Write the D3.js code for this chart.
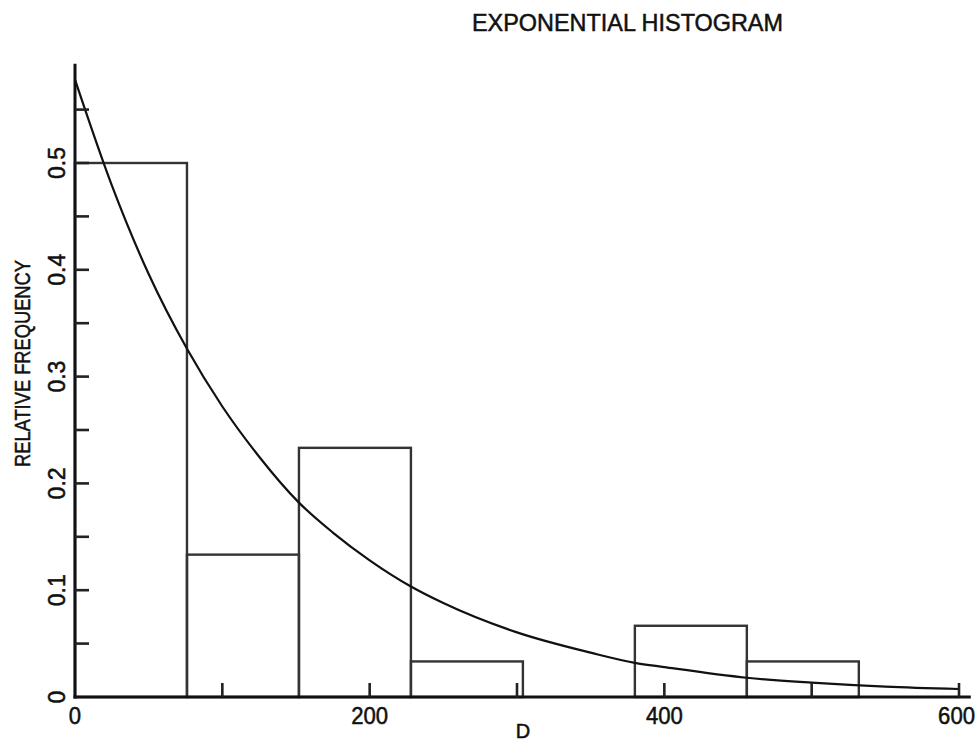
<!DOCTYPE html>
<html>
<head>
<meta charset="utf-8">
<script src="https://cdn.jsdelivr.net/npm/d3@7"></script>
<style>
  html, body { margin: 0; padding: 0; background: #fff; }
  svg { display: block; }
  text { font-family: "Liberation Sans", Arial, sans-serif; fill: #111; stroke: #111; stroke-width: 0.5px; }
</style>
</head>
<body>
<svg id="chart" width="977" height="744"></svg>
<script>
// ---- data ----
const binStarts = [0, 76, 152, 228, 304, 380, 456];
const binWidth = 76;
const relFreq = [0.5, 0.1333, 0.2333, 0.0333, 0, 0.0667, 0.0333];

const curveX = [0, 25, 50, 76, 100, 125, 152, 175, 200, 228, 250, 300, 350, 380, 400, 456, 500, 550, 600];
const curveY = [0.578, 0.479, 0.396, 0.326, 0.272, 0.225, 0.182, 0.154, 0.128, 0.1035, 0.088, 0.0605, 0.0415, 0.032, 0.028, 0.018, 0.0135, 0.0098, 0.0075];

const xTicks = [0, 200, 400, 600];
const xMinorTicks = [100, 300, 500];
const yTicks = [0, 0.1, 0.2, 0.3, 0.4, 0.5];
const yTickLabels = ["0", "0.1", "0.2", "0.3", "0.4", "0.5"];
const yMinorTicks = [0.05, 0.15, 0.25, 0.35, 0.45, 0.55];

const titleText = "EXPONENTIAL  HISTOGRAM";
const yLabelText = "RELATIVE  FREQUENCY";
const xLabelText = "D";

// ---- layout ----
const W = 977;
const svg = d3.select("#chart");
const x = d3.scaleLinear().domain([0, 600]).range([75, 959]);
const y = d3.scaleLinear().domain([0, 0.5]).range([697, 163]);
const xAxisEnd = 608;   // axis line extends slightly past 600
const yAxisEnd = 0.593; // axis line top

const ink = "#111";

// histogram bars
svg.append("g").selectAll("rect")
  .data(binStarts.map((s, i) => ({ s, v: relFreq[i] })).filter(d => d.v > 0))
  .join("rect")
  .attr("x", d => x(d.s))
  .attr("y", d => y(d.v))
  .attr("width", d => x(d.s + binWidth) - x(d.s))
  .attr("height", d => y(0) - y(d.v))
  .attr("fill", "none")
  .attr("stroke", "#333")
  .attr("stroke-width", 2.4);

// fitted curve
const line = d3.line()
  .x(d => x(d[0]))
  .y(d => y(d[1]))
  .curve(d3.curveMonotoneX);
svg.append("path")
  .datum(curveX.map((v, i) => [v, curveY[i]]))
  .attr("d", line)
  .attr("fill", "none")
  .attr("stroke", ink)
  .attr("stroke-width", 2.2);

// axes lines
svg.append("line")
  .attr("x1", x(0)).attr("x2", x(0))
  .attr("y1", y(0) + 1.5).attr("y2", y(yAxisEnd))
  .attr("stroke", ink).attr("stroke-width", 3);
svg.append("line")
  .attr("x1", x(0) - 1.5).attr("x2", x(xAxisEnd))
  .attr("y1", y(0)).attr("y2", y(0))
  .attr("stroke", ink).attr("stroke-width", 3);

// y ticks (inside)
const yAll = yTicks.filter(t => t > 0).concat(yMinorTicks);
svg.append("g").selectAll("line")
  .data(yAll).join("line")
  .attr("x1", x(0)).attr("x2", x(0) + 14)
  .attr("y1", d => y(d)).attr("y2", d => y(d))
  .attr("stroke", "#222").attr("stroke-width", 2.6);

// x ticks (inside)
const xAll = xTicks.filter(t => t > 0).concat(xMinorTicks);
svg.append("g").selectAll("line")
  .data(xAll).join("line")
  .attr("x1", d => x(d)).attr("x2", d => x(d))
  .attr("y1", y(0)).attr("y2", y(0) - 14)
  .attr("stroke", "#222").attr("stroke-width", 2.6);

// x tick labels
const digitW = 12.3;
svg.append("g").selectAll("text")
  .data(xTicks).join("text")
  .attr("x", d => Math.min(x(d), W - 2 - String(d).length * digitW / 2))
  .attr("y", 724)
  .attr("text-anchor", "middle")
  .attr("font-size", 23)
  .attr("textLength", d => String(d).length * digitW)
  .attr("lengthAdjust", "spacingAndGlyphs")
  .text(d => d);

// y tick labels (rotated)
svg.append("g").selectAll("text")
  .data(yTicks).join("text")
  .attr("transform", (d) => `translate(65,${y(d)}) rotate(-90)`)
  .attr("text-anchor", "middle")
  .attr("font-size", 23)
  .text((d, i) => yTickLabels[i]);

// title
svg.append("text")
  .attr("x", 472).attr("y", 31)
  .attr("font-size", 24)
  .attr("textLength", 311)
  .attr("lengthAdjust", "spacingAndGlyphs")
  .text(titleText);

// y label
svg.append("text")
  .attr("transform", "translate(30,467) rotate(-90)")
  .attr("font-size", 22)
  .attr("textLength", 207)
  .attr("lengthAdjust", "spacingAndGlyphs")
  .text(yLabelText);

// x label
svg.append("text")
  .attr("x", 523).attr("y", 738)
  .attr("text-anchor", "middle")
  .attr("font-size", 20)
  .text(xLabelText);
</script>
</body>
</html>
